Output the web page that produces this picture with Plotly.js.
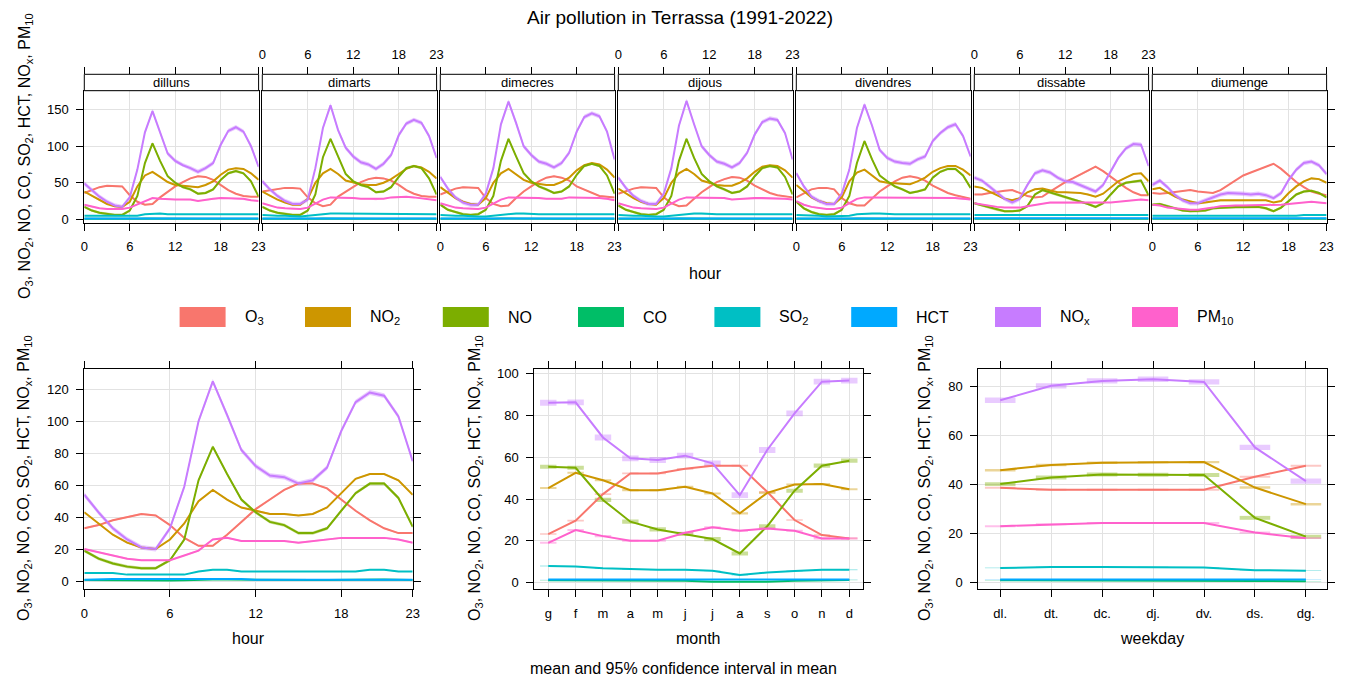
<!DOCTYPE html>
<html><head><meta charset="utf-8">
<script src="https://cdn.plot.ly/plotly-3.0.1.min.js"></script>
<style>html,body{margin:0;padding:0;background:#fff;}#chart{width:1366px;height:685px;}</style>
</head><body><div id="chart"></div>
<script>
const W = 1366, H = 685;

// ---------- categories / labels ----------
const hours = [0,1,2,3,4,5,6,7,8,9,10,11,12,13,14,15,16,17,18,19,20,21,22,23];
const hourTicks = [0,6,12,18,23];
const days = ['dilluns','dimarts','dimecres','dijous','divendres','dissabte','diumenge'];
const monthIdx = [1,2,3,4,5,6,7,8,9,10,11,12];
const monthLabels = ['g','f','m','a','m','j','j','a','s','o','n','d'];
const weekIdx = [1,2,3,4,5,6,7];
const weekLabels = ['dl.','dt.','dc.','dj.','dv.','ds.','dg.'];
const pollutants = ['O3','NO2','NO','CO','SO2','HCT','NOx','PM10'];
const legendLabels = ['O<sub>3</sub>','NO<sub>2</sub>','NO','CO','SO<sub>2</sub>','HCT','NO<sub>x</sub>','PM<sub>10</sub>'];
const colors = ['#F8766D','#CD9600','#7CAE00','#00BE67','#00BFC4','#00A9FF','#C77CFF','#FF61CC'];

// ---------- day x hour means (rows: dilluns..diumenge) ----------
const dh_O3 = [
 [36,40,44,46,46,45,33,24,20,21,30,38,45,51,56,59,58,54,47,40,35,32,31,31],
 [38,40,41,43,43,42,30,22,18,20,31,38,45,51,55,57,56,53,47,40,35,32,31,31],
 [34,38,42,44,44,43,29,21,18,19,29,38,45,52,57,59,57,53,45,41,36,32,31,30],
 [35,39,42,44,44,43,30,22,18,19,28,37,44,51,55,58,57,53,46,41,36,33,31,30],
 [30,36,41,43,43,41,29,22,19,19,29,38,45,52,57,59,57,53,46,41,36,33,30,28],
 [34,34,36,38,39,40,36,32,30,31,38,45,51,56,61,66,72,66,58,50,43,37,33,33],
 [36,35,36,37,39,40,38,37,36,40,47,54,60,64,68,72,76,69,60,51,44,38,35,33]];
const dh_NO2 = [
 [38,32,26,21,18,17,24,45,60,65,58,51,47,46,45,44,47,52,61,68,70,69,63,54],
 [38,32,27,23,20,20,28,50,63,69,62,53,50,48,47,47,50,55,62,69,73,71,65,56],
 [44,36,29,24,21,20,29,50,63,69,62,54,50,48,47,47,51,57,67,74,77,75,68,57],
 [42,35,29,24,21,20,29,50,63,69,62,53,50,47,46,46,50,56,65,72,74,73,67,57],
 [47,38,30,25,22,21,30,52,64,68,60,52,50,49,48,48,52,57,65,70,73,73,68,60],
 [45,43,38,33,28,26,29,37,41,42,40,37,37,37,36,34,31,35,44,52,57,62,63,52],
 [41,43,37,31,27,24,22,23,25,26,26,26,26,26,26,26,23,25,36,45,52,56,55,50]];
const dh_NO = [
 [17,12,9,7,6,6,12,32,77,104,80,59,50,44,41,35,36,41,54,63,66,63,52,31],
 [17,12,9,7,6,6,12,34,85,110,85,62,52,47,44,37,38,44,58,70,73,70,56,34],
 [20,13,10,7,6,7,13,32,80,110,86,63,52,45,41,36,38,45,61,73,76,73,60,35],
 [19,13,10,7,6,7,13,32,80,110,84,62,52,45,41,36,38,45,59,70,73,71,58,34],
 [24,15,10,7,6,7,13,32,77,107,82,60,52,45,41,36,38,41,57,65,69,69,60,43],
 [22,19,16,13,11,11,12,18,34,40,37,33,30,27,25,21,17,22,34,45,50,52,53,33],
 [20,21,18,15,12,11,11,12,15,16,17,17,17,17,17,15,11,16,25,34,38,39,36,30]];
const dh_CO = [
 [0.8,0.7,0.6,0.5,0.4,0.4,0.5,0.8,1.1,1.2,1.1,1.0,0.9,0.8,0.8,0.8,0.8,0.9,1.0,1.1,1.2,1.2,1.0,0.9],
 [0.8,0.7,0.6,0.5,0.4,0.4,0.5,0.8,1.1,1.2,1.1,1.0,0.9,0.8,0.8,0.8,0.8,0.9,1.0,1.1,1.2,1.2,1.0,0.9],
 [0.8,0.7,0.6,0.5,0.4,0.4,0.5,0.8,1.1,1.2,1.1,1.0,0.9,0.8,0.8,0.8,0.8,0.9,1.0,1.1,1.2,1.2,1.0,0.9],
 [0.8,0.7,0.6,0.5,0.4,0.4,0.5,0.8,1.1,1.2,1.1,1.0,0.9,0.8,0.8,0.8,0.8,0.9,1.0,1.1,1.2,1.2,1.0,0.9],
 [0.8,0.7,0.6,0.5,0.4,0.4,0.5,0.8,1.1,1.2,1.1,1.0,0.9,0.8,0.8,0.8,0.8,0.9,1.0,1.1,1.2,1.2,1.0,0.9],
 [0.7,0.7,0.6,0.5,0.4,0.4,0.4,0.5,0.6,0.7,0.7,0.7,0.6,0.6,0.6,0.6,0.6,0.6,0.7,0.8,0.9,0.9,0.9,0.8],
 [0.7,0.7,0.6,0.5,0.4,0.4,0.4,0.4,0.5,0.5,0.5,0.5,0.5,0.5,0.5,0.5,0.5,0.5,0.6,0.7,0.8,0.8,0.8,0.7]];
const dh_SO2 = [
 [5,5,4,4,4,4,4,5,7,8,8,7,7,7,7,7,7,7,7,7,7,7,7,7],
 [6,5,5,5,4,4,5,6,8,8,8,8,8,7,7,7,7,7,7,8,8,8,7,7],
 [6,5,5,5,4,4,4,5,7,8,8,8,7,7,7,7,7,7,7,8,8,8,7,7],
 [6,5,5,5,4,4,4,5,7,8,8,8,7,7,7,7,7,7,7,8,8,8,7,7],
 [6,6,5,5,4,4,4,5,7,8,8,8,7,7,7,7,7,7,7,7,7,7,7,7],
 [6,6,5,5,5,5,5,5,5,6,6,6,6,6,5,5,5,5,5,6,6,6,6,6],
 [5,5,5,5,4,4,4,4,4,5,5,5,5,5,5,5,5,5,5,5,6,6,6,6]];
const dh_HCT = [
 [1.2,1.2,1.5,1.6,1.6,1.6,1.6,1.6,1.6,1.6,1.5,1.5,1.2,1.2,1.2,1.2,1.2,1.2,1.2,1.2,1.3,1.3,1.2,1.2],
 [1.2,1.2,1.5,1.6,1.6,1.6,1.6,1.6,1.6,1.6,1.5,1.5,1.2,1.2,1.2,1.2,1.2,1.2,1.2,1.2,1.3,1.3,1.2,1.2],
 [1.2,1.2,1.5,1.6,1.6,1.6,1.6,1.6,1.6,1.6,1.5,1.5,1.2,1.2,1.2,1.2,1.2,1.2,1.2,1.2,1.3,1.3,1.2,1.2],
 [1.2,1.2,1.5,1.6,1.6,1.6,1.6,1.6,1.6,1.6,1.5,1.5,1.2,1.2,1.2,1.2,1.2,1.2,1.2,1.2,1.3,1.3,1.2,1.2],
 [1.2,1.2,1.5,1.6,1.6,1.6,1.6,1.6,1.6,1.6,1.5,1.5,1.2,1.2,1.2,1.2,1.2,1.2,1.2,1.2,1.3,1.3,1.2,1.2],
 [1.3,1.3,1.4,1.5,1.5,1.5,1.5,1.5,1.5,1.4,1.4,1.3,1.3,1.3,1.3,1.3,1.3,1.3,1.3,1.3,1.3,1.3,1.3,1.3],
 [1.3,1.3,1.4,1.5,1.5,1.5,1.5,1.5,1.5,1.4,1.4,1.3,1.3,1.3,1.3,1.3,1.3,1.3,1.3,1.3,1.3,1.3,1.3,1.3]];
const dh_NOx = [
 [49,40,31,24,19,17,30,68,119,148,118,90,80,74,70,65,70,77,102,121,126,120,100,72],
 [52,41,32,25,21,21,27,70,125,156,122,98,86,78,75,69,76,88,115,131,136,132,114,84],
 [58,42,30,23,20,20,35,70,130,161,132,100,88,79,76,71,77,91,120,140,145,141,120,82],
 [57,43,32,25,21,21,35,70,128,162,130,100,88,79,76,71,77,91,116,133,138,136,118,82],
 [63,45,31,25,21,21,35,68,125,157,128,95,84,79,77,76,82,86,107,118,126,130,114,86],
 [57,53,45,36,28,23,28,47,63,67,64,57,52,51,47,42,38,47,66,84,97,103,102,73],
 [47,53,44,33,26,22,22,26,30,34,36,36,35,34,35,33,29,36,54,68,77,79,74,62]];
const dh_PM10 = [
 [20,17,15,14,14,14,16,20,25,29,28,27,27,27,27,25,27,28,29,29,28,28,26,25],
 [22,19,16,15,14,14,16,21,27,30,30,29,29,28,28,27,28,30,31,31,30,29,28,26],
 [22,19,16,15,14,14,16,21,27,30,30,29,29,29,28,28,28,30,30,30,30,29,28,26],
 [22,19,16,15,14,14,16,21,27,30,30,30,29,30,29,27,28,29,29,29,29,28,28,27],
 [25,20,17,15,14,14,16,22,28,30,30,30,30,29,29,29,29,30,30,30,29,29,28,27],
 [22,20,18,17,16,16,16,18,20,22,23,23,23,22,22,22,22,22,23,24,25,26,27,26],
 [20,19,16,15,13,13,13,14,16,18,19,19,19,19,19,19,20,20,21,22,24,24,23,22]];
const dayHour = [dh_O3, dh_NO2, dh_NO, dh_CO, dh_SO2, dh_HCT, dh_NOx, dh_PM10];

// ---------- hour means ----------
const hr_O3   = [33,35,38,40,42,41,35,27,22,22,29,37,45,51,57,61,61,58,51,44,38,33,30,30];
const hr_NO2  = [43,36,29,24,21,20,26,36,50,57,51,46,44,42,42,41,42,46,55,64,67,67,63,54];
const hr_NO   = [19,14,11,9,8,8,13,26,63,84,67,51,43,37,35,30,30,33,44,55,61,61,52,34];
const hr_CO   = [0.6,0.5,0.4,0.2,0.2,0.2,0.3,0.5,0.8,0.9,0.9,0.8,0.7,0.6,0.6,0.6,0.6,0.7,0.8,0.9,1.2,1.0,0.8,0.7];
const hr_SO2  = [5,5,5,4,4,4,4,4,6,7,7,6,6,6,6,6,6,6,6,6,7,7,6,6];
const hr_HCT  = [0.8,0.8,1.2,1.3,1.3,1.3,1.3,1.3,1.3,1.3,1.3,1.2,0.8,0.8,0.8,0.8,0.8,0.8,0.8,0.8,1.0,1.0,0.8,0.8];
const hr_NOx  = [54,43,33,26,21,20,33,59,100,125,104,82,72,66,65,61,63,71,94,112,118,116,103,75];
const hr_PM10 = [20,18,16,14,13,13,13,16,19,26,27,25,25,25,25,24,25,26,27,27,27,27,26,24];
const hourMeans = [hr_O3, hr_NO2, hr_NO, hr_CO, hr_SO2, hr_HCT, hr_NOx, hr_PM10];

// ---------- month means ----------
const mo_O3   = [23.3,29.7,42.4,52.3,52.3,54.5,56,56,43.5,30,22.8,21.2];
const mo_NO2  = [45.3,52.6,49,44.3,44.3,45.9,42.7,33.2,43,47,47.2,44.7];
const mo_NO   = [55.5,55,39.6,29.2,25.5,23.3,20.9,14,27,44,56,58.4];
const mo_CO   = [1.2,1.2,1.1,1.0,1.0,1.0,0.5,0.4,0.5,1.0,1.2,1.3];
const mo_SO2  = [8,7.8,6.9,6.4,6.2,6.2,5.7,3.7,4.9,5.6,6.2,6.2];
const mo_HCT  = [1.5,1.5,1.5,1.5,1.5,1.5,1.5,1.5,1.5,1.5,1.5,1.5];
const mo_NOx  = [86.1,86.3,69.5,59.5,58.7,60.8,57.1,41.9,63.5,81,96.2,96.7];
const mo_PM10 = [19.1,25.2,22.3,20.1,20.1,23.9,26.5,24.9,26,24.9,21.2,21.2];
const monthMeans = [mo_O3, mo_NO2, mo_NO, mo_CO, mo_SO2, mo_HCT, mo_NOx, mo_PM10];

// ---------- weekday means ----------
const wd_O3   = [38.7,37.9,37.9,37.9,37.9,43.2,47.7];
const wd_NO2  = [45.9,48,48.9,49.2,49.2,38.8,32];
const wd_NO   = [40.2,42.9,44.1,44,43.9,26.4,18.7];
const wd_CO   = [0.9,0.9,0.9,0.9,0.9,0.6,0.5];
const wd_SO2  = [5.9,6.3,6.3,6.3,6.1,5,4.8];
const wd_HCT  = [1.2,1.2,1.2,1.2,1.2,1.2,1.2];
const wd_NOx  = [74.5,80.4,82.4,83.1,82,55.2,41.4];
const wd_PM10 = [23,23.8,24.3,24.3,24.3,20.4,18.1];
const weekMeans = [wd_O3, wd_NO2, wd_NO, wd_CO, wd_SO2, wd_HCT, wd_NOx, wd_PM10];

// ---------- 95% CI half widths (per pollutant) ----------
const ci_dayHour = [0.8,0.8,1.8,0.1,0.3,0.1,3.0,0.8];
const ci_hour    = [0.5,0.5,1.0,0.1,0.2,0.1,1.5,0.5];
const ci_month   = [0.4,0.5,1.0,0.1,0.2,0.1,1.4,0.5];
const ci_week    = [0.4,0.5,0.8,0.1,0.15,0.1,1.1,0.4];

// ---------- helpers ----------
const px = v => v / W;
const py = v => 1 - v / H;
function rgba(hex, a) {
  const n = parseInt(hex.slice(1), 16);
  return `rgba(${(n >> 16) & 255},${(n >> 8) & 255},${n & 255},${a})`;
}
const xid = i => i === 0 ? 'x' : 'x' + (i + 1);
const yid = i => i === 0 ? 'y' : 'y' + (i + 1);
const xkey = i => i === 0 ? 'xaxis' : 'xaxis' + (i + 1);
const ykey = i => i === 0 ? 'yaxis' : 'yaxis' + (i + 1);

const traces = [];
function band(x, y, ci, col, xa, ya) {
  const up = y.map(v => v + ci), lo = y.map(v => v - ci);
  traces.push({type:'scatter', mode:'lines', x: x.concat(x.slice().reverse()),
    y: up.concat(lo.slice().reverse()), fill:'toself', fillcolor: rgba(col, 0.4),
    line:{width:0}, hoverinfo:'skip', showlegend:false, xaxis:xa, yaxis:ya});
}
function line(x, y, col, xa, ya, name) {
  traces.push({type:'scatter', mode:'lines', x, y, name, line:{color:col, width:2},
    showlegend:false, xaxis:xa, yaxis:ya});
}
function boxes(x, y, ci, col, xa, ya) {
  traces.push({type:'bar', x, y: y.map(() => 2 * ci), base: y.map(v => v - ci), width:0.6,
    marker:{color: rgba(col, 0.4), line:{width:0}}, hoverinfo:'skip', showlegend:false,
    xaxis:xa, yaxis:ya});
}

// ---------- geometry ----------
const topLeft = [84.3, 262.3, 440.3, 618.3, 796.3, 974.3, 1152.3];
const panelW = 174.3;
const topY0 = 90.7, topY1 = 222.7, stripTop = 74.3;
const botY0 = 368.7, botY1 = 589;

// ---------- traces: top (day x hour) ----------
for (let d = 0; d < 7; d++) {
  for (let p = 0; p < pollutants.length; p++)
    band(hours, dayHour[p][d], ci_dayHour[p], colors[p], xid(d), yid(d));
  for (let p = 0; p < pollutants.length; p++)
    line(hours, dayHour[p][d], colors[p], xid(d), yid(d), pollutants[p]);
}
// bottom: hour
for (let p = 0; p < 8; p++) band(hours, hourMeans[p], ci_hour[p], colors[p], 'x8', 'y8');
for (let p = 0; p < 8; p++) line(hours, hourMeans[p], colors[p], 'x8', 'y8', pollutants[p]);
// month
for (let p = 0; p < 8; p++) boxes(monthIdx, monthMeans[p], ci_month[p], colors[p], 'x9', 'y9');
for (let p = 0; p < 8; p++) line(monthIdx, monthMeans[p], colors[p], 'x9', 'y9', pollutants[p]);
// weekday
for (let p = 0; p < 8; p++) boxes(weekIdx, weekMeans[p], ci_week[p], colors[p], 'x10', 'y10');
for (let p = 0; p < 8; p++) line(weekIdx, weekMeans[p], colors[p], 'x10', 'y10', pollutants[p]);
// dummy traces so the top tick axes exist
for (let d = 0; d < 7; d++)
  traces.push({type:'scatter', mode:'lines', x:[0, 23], y:[null, null], xaxis:xid(10 + d), yaxis:yid(d),
    hoverinfo:'skip', showlegend:false});

// ---------- layout ----------
const FONT = 'Liberation Sans, Arial, sans-serif';
const tickFont = {family: FONT, size: 13, color: '#000'};
const axBase = {showline:true, linecolor:'#000', linewidth:1, mirror:true, ticks:'outside',
  ticklen:7, tickcolor:'#000', tickwidth:1, showgrid:true, gridcolor:'#E2E2E2', gridwidth:1,
  zeroline:false, tickfont:tickFont, fixedrange:true, ticklabelstandoff:5};

const layout = {
  width: W, height: H, margin:{l:0, r:0, t:0, b:0}, paper_bgcolor:'#fff', plot_bgcolor:'#fff',
  showlegend:false, barmode:'overlay', font:{family:FONT, color:'#000'},
  title:{text:'Air pollution in Terrassa (1991-2022)', font:{family:FONT, size:19, color:'#000'},
    x: px(680), xanchor:'center', y: py(17), yanchor:'middle'},
  shapes:[], annotations:[]
};

for (let d = 0; d < 7; d++) {
  const L = topLeft[d], R = L + panelW;
  layout[xkey(d)] = Object.assign({}, axBase, {domain:[px(L), px(R)], anchor:yid(d), range:[0, 23],
    tickmode:'array', tickvals:hourTicks, ticktext:hourTicks.map(String), showticklabels: d % 2 === 0});
  layout[ykey(d)] = Object.assign({}, axBase, {domain:[py(topY1), py(topY0)], anchor:xid(d),
    range:[-4.65, 176], tickmode:'array', tickvals:[0, 50, 100, 150], showticklabels: d === 0,
    ticks: (d === 0 || d === 6) ? 'outside' : '', side: d === 6 ? 'right' : 'left'});
  layout[xkey(10 + d)] = {overlaying: xid(d), anchor:'free', position: py(stripTop), side:'top',
    range:[0, 23], tickmode:'array', tickvals:hourTicks, ticktext:hourTicks.map(String),
    ticks:'outside', ticklen:7, tickcolor:'#000', tickwidth:1, showline:false, showgrid:false,
    zeroline:false, showticklabels: d % 2 === 1, tickfont:tickFont, fixedrange:true, ticklabelstandoff:3};
  // strip
  layout.shapes.push({type:'rect', xref:'paper', yref:'paper', x0:px(L), x1:px(R), y0:py(topY0), y1:py(stripTop),
    fillcolor:'#fff', line:{color:'#000', width:1}, layer:'above'});
  layout.annotations.push({xref:'paper', yref:'paper', x:px((L + R) / 2), y:py((topY0 + stripTop) / 2),
    text:days[d], showarrow:false, xanchor:'center', yanchor:'middle', font:{family:FONT, size:13, color:'#000'}});
}

// bottom panels
const botSpecs = [
  {L:84.3, R:412.7, xr:[0, 23], tv:hourTicks, tt:hourTicks.map(String), yr:[-5, 132.9], ytv:[0,20,40,60,80,100,120]},
  {L:534.3, R:862.7, xr:[0.49, 12.49], tv:monthIdx, tt:monthLabels, yr:[-3.0, 102.4], ytv:[0,20,40,60,80,100]},
  {L:978.3, R:1327.3, xr:[0.57, 7.42], tv:weekIdx, tt:weekLabels, yr:[-2.7, 87.4], ytv:[0,20,40,60,80]}
];
botSpecs.forEach((s, k) => {
  const i = 7 + k;
  layout[xkey(i)] = Object.assign({}, axBase, {domain:[px(s.L), px(s.R)], anchor:yid(i), range:s.xr,
    tickmode:'array', tickvals:s.tv, ticktext:s.tt, mirror:'ticks'});
  layout[ykey(i)] = Object.assign({}, axBase, {domain:[py(botY1), py(botY0)], anchor:xid(i), range:s.yr,
    tickmode:'array', tickvals:s.ytv, mirror:'ticks'});
});

// axis titles (as text)
const ylab = 'O<sub>3</sub>, NO<sub>2</sub>, NO, CO, SO<sub>2</sub>, HCT, NO<sub>x</sub>, PM<sub>10</sub>';
const labFont = {family:FONT, size:16, color:'#000'};
[[25, 156], [25, 478], [476, 478], [926, 478]].forEach(([x, y]) => {
  layout.annotations.push({xref:'paper', yref:'paper', x:px(x), y:py(y), text:ylab, textangle:-90,
    showarrow:false, xanchor:'center', yanchor:'middle', font:labFont});
});
[['hour', 705, 273], ['hour', 248, 638], ['month', 698, 638], ['weekday', 1152, 638],
 ['mean and 95% confidence interval in mean', 683, 668]].forEach(([t, x, y]) => {
  layout.annotations.push({xref:'paper', yref:'paper', x:px(x), y:py(y), text:t, showarrow:false,
    xanchor:'center', yanchor:'middle', font:labFont});
});

// legend (key)
const keyLeft = [179.6, 305, 442.8, 578, 714.4, 851.2, 995, 1132];
keyLeft.forEach((x, p) => {
  layout.shapes.push({type:'rect', xref:'paper', yref:'paper', x0:px(x), x1:px(x + 46), y0:py(327), y1:py(307),
    fillcolor:colors[p], line:{width:0}});
  layout.annotations.push({xref:'paper', yref:'paper', x:px(x + 63), y:py(317), text:legendLabels[p],
    showarrow:false, xanchor:'left', yanchor:'middle', font:labFont});
});

Plotly.newPlot('chart', traces, layout, {displayModeBar:false, staticPlot:true});
</script></body></html>
